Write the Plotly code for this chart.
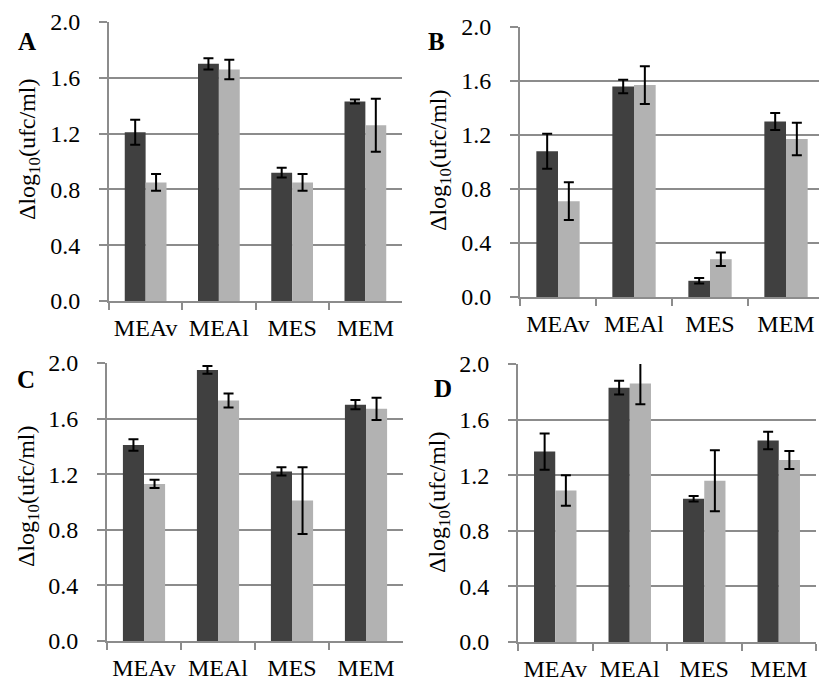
import plotly.graph_objects as go

W, H = 819, 682

categories = ["MEAv", "MEAl", "MES", "MEM"]

# Panel A
a_dark = [1.21, 1.70, 0.92, 1.43]
a_dark_err = [0.09, 0.04, 0.035, 0.015]
a_light = [0.85, 1.66, 0.85, 1.26]
a_light_err = [0.06, 0.07, 0.06, 0.19]

# Panel B
b_dark = [1.08, 1.56, 0.12, 1.30]
b_dark_err = [0.13, 0.05, 0.02, 0.063]
b_light = [0.71, 1.57, 0.28, 1.17]
b_light_err = [0.14, 0.14, 0.05, 0.12]

# Panel C
c_dark = [1.41, 1.95, 1.22, 1.70]
c_dark_err = [0.042, 0.028, 0.03, 0.033]
c_light = [1.13, 1.73, 1.01, 1.67]
c_light_err = [0.03, 0.05, 0.24, 0.08]

# Panel D
d_dark = [1.37, 1.83, 1.03, 1.45]
d_dark_err = [0.13, 0.05, 0.02, 0.063]
d_light = [1.09, 1.86, 1.16, 1.31]
d_light_err = [0.11, 0.15, 0.22, 0.065]

y_ticks = [0.0, 0.4, 0.8, 1.2, 1.6, 2.0]
panel_labels = ["A", "B", "C", "D"]

DARK = "#404040"
LIGHT = "#b2b2b2"
GRID = "#8c8c8c"
FONT = "Liberation Serif, Times New Roman, serif"
FS = 24

# plot areas in pixels: (left, right, top, bottom), x range end
panels = [
    dict(box=(109, 402, 22, 301), xend=3.5, data=(a_dark, a_dark_err, a_light, a_light_err),
         title=(29, 149), letter=(27, 42)),
    dict(box=(520, 819, 27, 297), xend=3.434, data=(b_dark, b_dark_err, b_light, b_light_err),
         title=(440, 160), letter=(436, 42)),
    dict(box=(107, 403, 363, 641), xend=3.5, data=(c_dark, c_dark_err, c_light, c_light_err),
         title=(28, 496), letter=(26, 380)),
    dict(box=(518, 816, 364, 642), xend=3.5, data=(d_dark, d_dark_err, d_light, d_light_err),
         title=(439, 502), letter=(443, 388)),
]

fig = go.Figure()
annotations = []
layout = {}

for i, p in enumerate(panels):
    n = "" if i == 0 else str(i + 1)
    xa, ya = "x" + n, "y" + n
    lab_n = str(i + 5)  # companion axis carrying the value labels
    dark, dark_err, light, light_err = p["data"]
    for vals, errs, col in ((dark, dark_err, DARK), (light, light_err, LIGHT)):
        fig.add_trace(go.Bar(
            x=categories, y=vals, xaxis=xa, yaxis=ya,
            marker=dict(color=col, line=dict(width=0)),
            error_y=dict(type="data", array=errs, visible=True,
                         color="black", thickness=2, width=5),
            showlegend=False,
        ))
    # empty trace so the label axis is laid out on the same subplot
    fig.add_trace(go.Scatter(x=[], y=[], xaxis=xa, yaxis="y" + lab_n,
                             showlegend=False, hoverinfo="skip"))
    l, r, t, b = p["box"]
    dom_y = [1 - b / H, 1 - t / H]
    layout["xaxis" + n] = dict(
        domain=[l / W, r / W], anchor=ya, type="category",
        range=[-0.5, p["xend"]],
        showline=True, linecolor=GRID, linewidth=1.5,
        ticks="outside", tickson="boundaries", ticklen=7, tickwidth=1.5, tickcolor=GRID,
        tickfont=dict(family=FONT, size=FS, color="black"),
        tickangle=0, ticklabelstandoff=4,
        showgrid=False, automargin=False, fixedrange=True,
    )
    layout["yaxis" + n] = dict(
        domain=dom_y, anchor=xa,
        range=[0, 2.0], tickvals=y_ticks, showticklabels=False,
        showline=True, linecolor=GRID, linewidth=1.5,
        ticks="outside", ticklen=8, tickwidth=1.5, tickcolor=GRID,
        showgrid=True, gridcolor=GRID, gridwidth=1.5, zeroline=False,
        automargin=False, fixedrange=True,
    )
    layout["yaxis" + lab_n] = dict(
        domain=dom_y, anchor=xa, overlaying=ya, side="left",
        range=[0, 2.0], tickvals=y_ticks, ticktext=[f"{v:.1f}" for v in y_ticks],
        showline=False, showgrid=False, zeroline=False,
        ticks="outside", ticklen=23, tickcolor="rgba(0,0,0,0)",
        tickfont=dict(family=FONT, size=FS, color="black"),
        automargin=False, fixedrange=True,
    )
    tx, ty = p["title"]
    annotations.append(dict(
        text="Δlog<sub>10</sub>(ufc/ml)", textangle=-90,
        x=tx / W, y=1 - ty / H, xref="paper", yref="paper",
        xanchor="center", yanchor="middle", showarrow=False,
        font=dict(family=FONT, size=FS, color="black"),
    ))
    lx, ly = p["letter"]
    annotations.append(dict(
        text="<b>%s</b>" % panel_labels[i],
        x=lx / W, y=1 - ly / H, xref="paper", yref="paper",
        xanchor="center", yanchor="middle", showarrow=False,
        font=dict(family=FONT, size=25, color="black"),
    ))

fig.update_layout(
    width=W, height=H,
    margin=dict(l=0, r=0, t=0, b=0),
    font=dict(family=FONT, size=FS, color="black"),
    paper_bgcolor="white", plot_bgcolor="white",
    barmode="group", bargap=0.43, bargroupgap=0,
    annotations=annotations,
    **layout,
)

fig.write_html("out.html", config={"displayModeBar": False})
